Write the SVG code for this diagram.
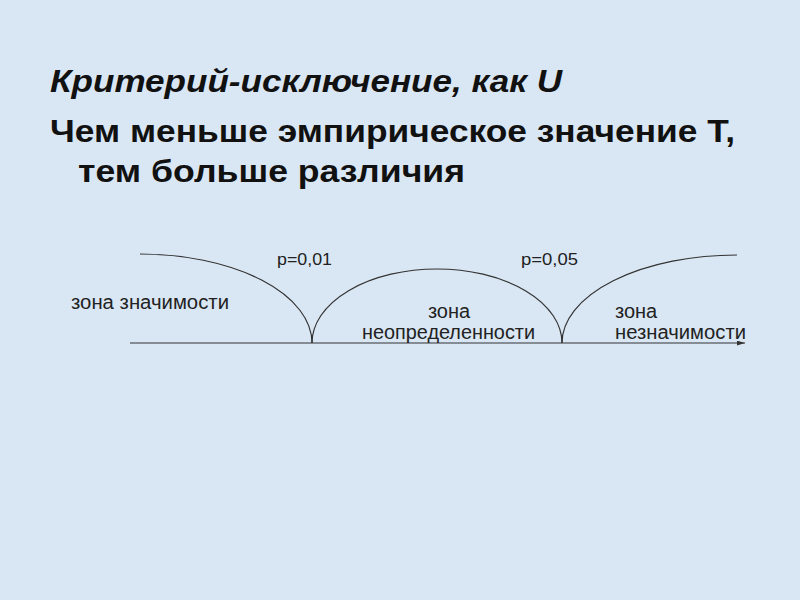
<svg xmlns="http://www.w3.org/2000/svg" width="800" height="600" viewBox="0 0 800 600">
<style>
.title{font-family:"Liberation Sans",Arial,sans-serif;font-weight:bold;font-size:32px;fill:#111}
.lbl{font-family:"Liberation Sans",Arial,sans-serif;font-size:20px;fill:#222}
.p{font-family:"Liberation Sans",Arial,sans-serif;font-size:17px;fill:#222}
.curve{fill:none;stroke:#333;stroke-width:1.2}
</style>
<defs>
<marker id="arr" viewBox="0 0 10 6" refX="10" refY="3" markerWidth="8" markerHeight="5" orient="auto" markerUnits="userSpaceOnUse">
<path d="M0,0 L10,3 L0,6 z" fill="#333"/>
</marker>
</defs>
<rect width="800" height="600" fill="#d9e7f4"/>
<g id="title">
<text class="title" x="50" y="92" font-style="italic" textLength="512" lengthAdjust="spacingAndGlyphs">Критерий-исключение, как U</text>
<text class="title" x="50" y="142" textLength="685" lengthAdjust="spacingAndGlyphs">Чем меньше эмпирическое значение Т,</text>
<text class="title" x="78" y="182" textLength="387" lengthAdjust="spacingAndGlyphs">тем больше различия</text>
</g>
<g id="connectors">
<line id="axis" x1="130" y1="343" x2="745" y2="343" stroke="#333" stroke-width="1.2" marker-end="url(#arr)"/>
<path class="curve" d="M140,254 A172,89 0 0 1 312,343"/>
<path class="curve" d="M312,343 A125,74 0 0 1 562,343"/>
<path class="curve" d="M562,343 A175,88 0 0 1 737,255"/>
</g>
<g id="p001"><text class="p" x="277" y="265" textLength="55" lengthAdjust="spacingAndGlyphs">p=0,01</text></g>
<g id="p005"><text class="p" x="521" y="265" textLength="57" lengthAdjust="spacingAndGlyphs">p=0,05</text></g>
<g id="zone1"><text class="lbl" x="71" y="309" textLength="158" lengthAdjust="spacingAndGlyphs">зона значимости</text></g>
<g id="zone2">
<text class="lbl" x="449" y="318" text-anchor="middle">зона</text>
<text class="lbl" x="362" y="339" textLength="173" lengthAdjust="spacingAndGlyphs">неопределенности</text>
</g>
<g id="zone3">
<text class="lbl" x="615" y="318">зона</text>
<text class="lbl" x="615" y="339" textLength="131" lengthAdjust="spacingAndGlyphs">незначимости</text>
</g>
</svg>
